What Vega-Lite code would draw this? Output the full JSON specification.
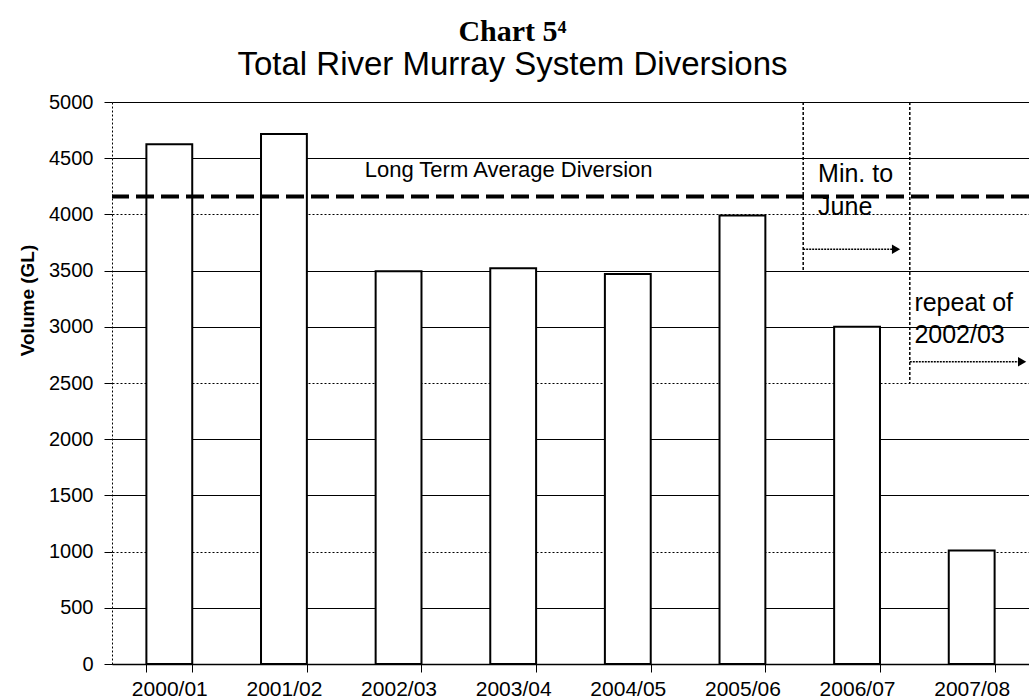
{
  "$schema": "https://vega.github.io/schema/vega-lite/v6.json",
  "autosize": "none",
  "width": 917,
  "height": 562,
  "padding": {"left": 112, "top": 102, "right": 0, "bottom": 36},
  "background": "white",
  "config": {
    "view": {"stroke": null},
    "font": "Liberation Sans"
  },
  "title": {
    "text": "Chart 5⁴",
    "subtitle": "Total River Murray System Diversions",
    "font": "Liberation Serif",
    "fontSize": 30,
    "fontWeight": "bold",
    "color": "black",
    "subtitleFont": "Liberation Sans",
    "subtitleFontSize": 33,
    "subtitleColor": "black",
    "subtitlePadding": 2,
    "anchor": "middle",
    "dx": -58,
    "offset": 10
  },
  "resolve": {"scale": {"x": "independent"}},
  "layer": [
    {
      "data": {
        "values": [
          {"year": "2000/01", "volume": 4625},
          {"year": "2001/02", "volume": 4715},
          {"year": "2002/03", "volume": 3495},
          {"year": "2003/04", "volume": 3520},
          {"year": "2004/05", "volume": 3470},
          {"year": "2005/06", "volume": 3990},
          {"year": "2006/07", "volume": 3000},
          {"year": "2007/08", "volume": 1010}
        ]
      },
      "mark": {"type": "bar", "fill": "white", "stroke": "black", "strokeWidth": 2},
      "encoding": {
        "x": {
          "field": "year",
          "type": "nominal",
          "sort": null,
          "scale": {"paddingInner": 0.6, "paddingOuter": 0.3},
          "axis": {
            "title": null,
            "tickBand": "extent",
            "labelAngle": 0,
            "labelFont": "Liberation Sans",
            "labelFontSize": 21,
            "labelColor": "black",
            "labelPadding": 6,
            "tickColor": "black",
            "tickSize": 8,
            "domainColor": "black",
            "domainWidth": 1.5,
            "grid": false
          }
        },
        "y": {
          "field": "volume",
          "type": "quantitative",
          "scale": {"domain": [0, 5000], "nice": false},
          "axis": {
            "title": "Volume (GL)",
            "titleFont": "Liberation Sans",
            "titleFontSize": 19,
            "titleFontWeight": "bold",
            "titleColor": "black",
            "titleX": -85,
            "titleY": 198,
            "titleAngle": -90,
            "titleAlign": "center",
            "titleBaseline": "middle",
            "values": [0, 500, 1000, 1500, 2000, 2500, 3000, 3500, 4000, 4500, 5000],
            "format": "d",
            "labelFont": "Liberation Sans",
            "labelFontSize": 20,
            "labelColor": "black",
            "labelPadding": 11,
            "tickColor": "black",
            "tickSize": 8,
            "domainColor": "black",
            "domainDash": [2, 2],
            "grid": true,
            "gridColor": "black",
            "gridWidth": 1,
            "gridOpacity": 1,
            "gridDash": {
              "condition": {"test": "datum.value == 4000 || datum.value == 2500 || datum.value == 1000", "value": [2, 2]},
              "value": []
            }
          }
        }
      }
    },
    {
      "layer": [
        {
          "data": {"values": [{"avg": 4160}]},
          "mark": {"type": "rule", "stroke": "black", "strokeWidth": 4, "strokeDash": [18, 7]},
          "encoding": {
            "y": {"field": "avg", "type": "quantitative", "scale": {"domain": [0, 5000], "nice": false}}
          }
        },
        {
          "data": {
            "values": [
              {"px": 6.03, "top": 5000, "bottom": 3500},
              {"px": 6.96, "top": 5000, "bottom": 2500}
            ]
          },
          "mark": {"type": "rule", "stroke": "black", "strokeWidth": 1.5, "strokeDash": [3, 2]},
          "encoding": {
            "x": {"field": "px", "type": "quantitative", "scale": {"domain": [0, 8], "nice": false, "zero": false}, "axis": null},
            "y": {"field": "top", "type": "quantitative"},
            "y2": {"field": "bottom"}
          }
        },
        {
          "data": {
            "values": [
              {"start": 6.03, "end": 6.82, "level": 3690},
              {"start": 6.96, "end": 7.92, "level": 2690}
            ]
          },
          "mark": {"type": "rule", "stroke": "black", "strokeWidth": 1.5, "strokeDash": [2, 1]},
          "encoding": {
            "x": {"field": "start", "type": "quantitative", "scale": {"domain": [0, 8], "nice": false, "zero": false}, "axis": null},
            "x2": {"field": "end"},
            "y": {"field": "level", "type": "quantitative"}
          }
        },
        {
          "data": {
            "values": [
              {"tip": 6.84, "level": 3690},
              {"tip": 7.94, "level": 2690}
            ]
          },
          "mark": {"type": "point", "shape": "triangle-right", "filled": true, "color": "black", "size": 90, "opacity": 1},
          "encoding": {
            "x": {"field": "tip", "type": "quantitative", "scale": {"domain": [0, 8], "nice": false, "zero": false}, "axis": null},
            "y": {"field": "level", "type": "quantitative"}
          }
        },
        {
          "data": {
            "values": [
              {"px": 6.16, "py": 4360, "label": "Min. to"},
              {"px": 6.16, "py": 4070, "label": "June"},
              {"px": 7.0, "py": 3212, "label": "repeat of"},
              {"px": 7.0, "py": 2927, "label": "2002/03"}
            ]
          },
          "mark": {"type": "text", "align": "left", "baseline": "middle", "font": "Liberation Sans", "fontSize": 25, "color": "black"},
          "encoding": {
            "x": {"field": "px", "type": "quantitative", "scale": {"domain": [0, 8], "nice": false, "zero": false}, "axis": null},
            "y": {"field": "py", "type": "quantitative"},
            "text": {"field": "label"}
          }
        },
        {
          "data": {"values": [{"px": 3.46, "py": 4395, "label": "Long Term Average Diversion"}]},
          "mark": {"type": "text", "align": "center", "baseline": "middle", "font": "Liberation Sans", "fontSize": 22, "color": "black"},
          "encoding": {
            "x": {"field": "px", "type": "quantitative", "scale": {"domain": [0, 8], "nice": false, "zero": false}, "axis": null},
            "y": {"field": "py", "type": "quantitative"},
            "text": {"field": "label"}
          }
        }
      ]
    }
  ]
}
